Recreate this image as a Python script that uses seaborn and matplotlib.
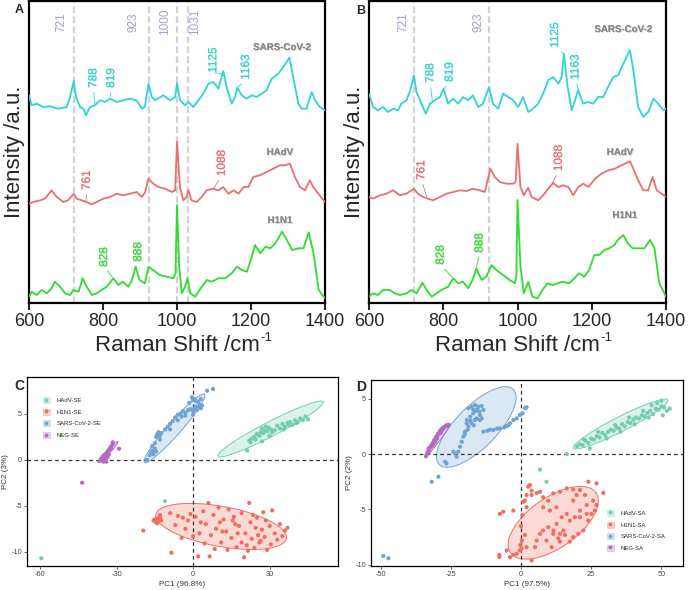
import numpy as np
import pandas as pd
import matplotlib
matplotlib.use('Agg')
import matplotlib.pyplot as plt
import matplotlib.patheffects as pe
from matplotlib.patches import Patch
from matplotlib.lines import Line2D
import seaborn as sns

# ---------------- spectra (panel A) ----------------
a_sars_x = [600, 607, 621, 639, 657, 679, 702, 711, 721, 727, 738, 747, 754, 765, 778, 792, 805, 819, 837, 855,
            873, 891, 905, 913, 923, 932, 941, 963, 981, 995, 1000, 1008, 1022, 1031, 1044, 1058, 1071, 1085, 1098, 1112,
            1125, 1134, 1148, 1157, 1163, 1175, 1188, 1202, 1215, 1229, 1242, 1256, 1274, 1287, 1304, 1314, 1328, 1337, 1350, 1364,
            1373, 1386, 1400]
a_sars_y = [21.7, 11.7, 13.3, 10, 10.7, 8.3, 10, 20, 36, 20, 10, 8.3, 1.7, 10, 11.7, 16.7, 15, 18.3, 15, 16.7,
            18.3, 16.7, 8.3, 10, 33.3, 20, 16.7, 21.7, 16.7, 20, 34, 16.7, 11.7, 15, 10, 16.7, 23.3, 33.3, 35, 28.3,
            46, 30, 13.3, 20, 29.3, 21.7, 18.3, 21.7, 20, 23.3, 26.7, 38.3, 43.3, 50, 59.3, 40, 13.3, 8.3, 8.3, 25,
            16.7, 10, 6.7]
a_hadv_x = [600, 612, 630, 643, 661, 675, 693, 706, 721, 729, 742, 756, 769, 783, 801, 819, 837, 855, 873, 891,
            905, 914, 923, 936, 950, 968, 986, 995, 1000, 1008, 1017, 1026, 1031, 1039, 1053, 1067, 1080, 1098, 1112, 1125,
            1139, 1153, 1166, 1180, 1193, 1206, 1224, 1242, 1260, 1278, 1292, 1305, 1319, 1332, 1346, 1359, 1368, 1382, 1400]
a_hadv_y = [3.3, 5, 6.7, 8.3, 16.7, 10, 5, 6.7, 13.3, 8.3, 6.7, 5, 2.7, 5, 8.3, 10, 13.3, 11.7, 13.3, 15,
            10, 15, 28.3, 23.3, 20, 18.3, 15, 16.7, 65, 20, 6.7, 10, 16.7, 6.7, 5, 10, 16.7, 18.3, 16.7, 20,
            13.3, 16.7, 13.3, 20, 20, 30, 31.7, 35, 38.3, 41.7, 41.7, 43.3, 30, 20, 16.7, 26.7, 20, 13.3, 5]
a_h1n1_x = [600, 607, 621, 634, 648, 661, 670, 684, 697, 711, 720, 734, 745, 756, 770, 783, 796, 810, 828, 841,
            854, 868, 877, 888, 899, 913, 923, 935, 953, 972, 990, 996, 1000, 1006, 1013, 1022, 1028, 1036, 1049, 1067,
            1081, 1094, 1112, 1130, 1148, 1162, 1175, 1189, 1202, 1211, 1225, 1239, 1252, 1266, 1284, 1297, 1311, 1329, 1342, 1356,
            1369, 1383, 1400]
a_h1n1_y = [3.3, 8.3, 5, 10, 6.7, 11.7, 18.3, 13.3, 6.7, 5, 10, 8.3, 21.7, 13.3, 5, 6.7, 10, 13.3, 21.7, 15,
            18.3, 13.3, 18.3, 33.3, 20, 16.7, 33.3, 30, 25, 23.3, 21.7, 26.7, 95, 33.3, 6.7, 13.3, 21.7, 6.7, 3.3, 13.3,
            20, 18.3, 21.7, 21.7, 26.7, 33.3, 30, 28.3, 43.3, 55, 46.7, 53.3, 51.7, 56.7, 68.3, 60, 50, 51.7, 51.7, 67.7,
            46.7, 10, 1.7]

# ---------------- spectra (panel B) ----------------
b_sars_x = [600, 611, 624, 638, 651, 665, 678, 687, 701, 711, 721, 728, 741, 753, 764, 777, 791, 801, 813, 827,
            840, 853, 867, 880, 894, 907, 923, 934, 948, 961, 975, 988, 1002, 1015, 1029, 1042, 1056, 1069, 1083, 1096,
            1110, 1119, 1125, 1135, 1146, 1155, 1163, 1177, 1190, 1204, 1217, 1231, 1244, 1258, 1271, 1285, 1303, 1312, 1325, 1339,
            1352, 1366, 1379, 1393, 1400]
b_sars_y = [23.3, 10, 6.7, 10, 5, 8.3, 6.7, 13.3, 16.7, 26.7, 41.7, 25, 13.3, 3.3, 13.3, 16.7, 20, 28.3, 13.3, 18.3,
            13.3, 20, 16.7, 21.7, 10, 13.3, 30, 13.3, 8.3, 23.3, 20, 16.7, 10, 20, 5, 8.3, 13.3, 23.3, 36.7, 40,
            33.3, 40, 63.3, 30, 6.7, 16.7, 26.7, 13.3, 15, 13.3, 20, 20, 30, 40, 41.7, 53.3, 66.7, 46.7, 10, 0,
            5, 18.3, 13.3, 6.7, 8.3]
b_hadv_x = [600, 611, 629, 647, 665, 683, 701, 721, 732, 746, 759, 773, 791, 809, 827, 845, 863, 880, 898, 912,
            927, 939, 952, 970, 988, 995, 1000, 1008, 1017, 1029, 1038, 1056, 1069, 1083, 1096, 1110, 1123, 1137, 1150, 1164,
            1177, 1191, 1209, 1226, 1245, 1262, 1280, 1303, 1312, 1325, 1339, 1352, 1364, 1375, 1388, 1400]
b_hadv_y = [10, 8.3, 11.7, 13.3, 16.7, 11.7, 13.3, 18.3, 13.3, 10, 8.3, 6.7, 10, 13.3, 15, 16.7, 16, 18.3, 16.7, 15,
            38.3, 30, 25, 23.3, 23.3, 25, 63.3, 20, 11.7, 19.3, 10, 6.7, 11.7, 18.3, 24, 20, 21.7, 20, 11.7, 20,
            23.3, 20, 28.3, 33.3, 36.7, 38.3, 41.7, 45.7, 38.3, 26.7, 16.7, 16.7, 30, 16.7, 13.3, 10]
b_h1n1_x = [600, 611, 624, 638, 656, 670, 683, 701, 714, 728, 744, 755, 769, 782, 795, 813, 827, 840, 853, 867,
            879, 889, 903, 916, 930, 943, 961, 979, 993, 997, 1000, 1008, 1017, 1029, 1040, 1054, 1067, 1081, 1094, 1108,
            1121, 1139, 1153, 1166, 1180, 1193, 1207, 1220, 1234, 1247, 1261, 1270, 1285, 1297, 1310, 1324, 1342, 1357, 1369, 1382,
            1400]
b_h1n1_y = [3.3, 6.7, 5, 10, 10, 6.7, 5, 6.7, 10, 6.7, 17.3, 10, 3.3, 6.7, 10, 13.3, 21.7, 16.7, 18.3, 11.7,
            20, 31.7, 20, 23.3, 35, 30, 25, 20, 16.7, 23.3, 100, 33.3, 6.7, 18.3, 3.3, 1.7, 10, 16.7, 15, 16.7,
            18.3, 16.7, 21.7, 26.7, 23.3, 30, 45, 45, 50, 51.7, 55, 60, 65, 56.7, 51.7, 51.7, 51.7, 60, 51.7, 16.7,
            3.3]

spec_names = ['SARS-CoV-2', 'HAdV', 'H1N1']
spec_colors = ['#2fd4d4', '#ea6f6f', '#2fdc2f']
spec_offsets = [186, 96, 3]

# peak labels: (text, series index, peak position)
a_peaks = [('788', 0, 778), ('819', 0, 819), ('1125', 0, 1123), ('1163', 0, 1163),
           ('761', 1, 754), ('1088', 1, 1098), ('828', 2, 828), ('888', 2, 889)]
b_peaks = [('788', 0, 771), ('819', 0, 801), ('1125', 0, 1125), ('1163', 0, 1170),
           ('761', 1, 757), ('1088', 1, 1090), ('828', 2, 827), ('888', 2, 889)]
a_vlines = [721, 923, 1000, 1031]
b_vlines = [721, 923]

# ---------------- PCA (panel C) ----------------
groups_c = ['HAdV-SE', 'H1N1-SE', 'SARS-CoV-2-SE', 'NEG-SE']
groups_d = ['HAdV-SA', 'H1N1-SA', 'SARS-CoV-2-SA', 'NEG-SA']
pca_colors = ['#72cdb3', '#f26d5e', '#6fa3d4', '#b56ac6']

c_hadv_x = [21.2, 22, 23, 24, 24.5, 25, 26, 26.5, 27, 27.5, 28, 28.5, 29, 29.5, 30, 30.5, 31, 32, 33, 34,
            35, 36, 37, 38, 39, 40, 41, 42, 43, 44, 45, 35.5, 37.5, 40.5, 22.5, 27, -11, -59.5]
c_hadv_y = [1.0, 2.1, 2.3, 2.5, 2.2, 2.8, 2.6, 3.0, 3.4, 2.9, 3.2, 3.6, 3.1, 3.5, 2.6, 3.3, 3.0, 3.2, 3.7, 3.4,
            3.9, 3.6, 4.0, 4.1, 3.8, 4.3, 4.1, 4.5, 4.3, 4.7, 4.4, 3.3, 3.8, 4.0, 1.9, 2.0, -4.5, -10.7]
c_h1n1_x = [-15, -14.5, -14, -13.5, -13, -14, -15.5, -13, -12.5, -19.5, -8.5, -6, -4, -2, -3, 1, 2, 3, 4, 5,
            6, 7, 8, 9, 10, 11, 12, 13, 14, 15, 16, 17, 18, 19, 20, 20.5, 21, 22, 22.5, 23,
            24, 24.5, 25, 25.5, 26, 27, 27.5, 28, 29, 30, 31, 32, 33, 34, 35, 36, 37, -9, -7, -1,
            0, 4.5, 6.5, 10.5, 13.5, 16.5, 19, 21.5, 23.5, 26.5, 28.5, 15.5, 17.5, 11.5, 8.5, 2.5, -4.5, 30.5]
c_h1n1_y = [-6.5, -6.8, -6.4, -6.7, -6.3, -6.9, -6.6, -6.0, -6.6, -7.7, -10.1, -6.1, -6.3, -6.6, -7.5, -6.2, -10.5, -6.8, -5.6, -7.0,
            -4.7, -8.2, -6.0, -7.5, -5.2, -9.0, -6.5, -7.8, -5.4, -8.5, -6.2, -9.5, -7.2, -5.8, -10.6, -8.0, -9.3, -4.7, -6.8, -8.6,
            -9.6, -7.4, -6.3, -8.2, -9.0, -7.6, -5.7, -8.4, -9.8, -7.2, -5.5, -8.0, -8.7, -7.0, -8.3, -7.7, -7.4, -5.8, -7.1, -5.9,
            -8.3, -9.1, -10.5, -6.8, -9.8, -7.0, -9.0, -9.9, -6.0, -8.8, -6.6, -6.6, -8.0, -7.8, -9.7, -8.0, -8.5, -9.2]
c_sars_x = [-17, -16.5, -16, -15.5, -15, -14.5, -16, -15, -14, -13.5, -13, -12.5, -14.5, -13, -11, -10, -9, -8, -7, -6,
            -5, -4.5, -4, -3, -2, -1, 0, 0.5, 1, 1.5, 2, 2.5, 3, 3.5, 2, 1, 0, -0.5, 0.5, -1.5,
            3, 5.5, 7.8, -9, -6, -3, 0, -18]
c_sars_y = [0.5, 0.8, 1.0, 0.6, 1.2, 0.9, 1.5, 1.8, 2.8, 3.0, 2.6, 2.9, 2.5, 2.2, 3.3, 3.6, 3.9, 4.2, 4.6, 4.9,
            5.0, 4.7, 5.3, 5.1, 5.4, 5.5, 5.3, 5.6, 5.8, 5.4, 5.7, 6.0, 5.6, 5.9, 6.3, 6.4, 6.5, 6.8, 6.6, 6.2,
            6.6, 7.5, 7.7, 3.3, 4.3, 4.8, 4.9, 0.0]
c_neg_x = [-36.5, -36, -35.5, -35, -35, -34.5, -34, -34, -33.5, -33, -33, -32.5, -32, -31.5, -31.5, -32, -35.5, -34.5, -33.5, -34,
           -35, -29, -43.5]
c_neg_y = [-0.1, 0.1, 0.3, 0.2, 0.5, 0.4, 0.7, 0.2, 0.9, 0.6, 1.1, 1.3, 1.5, 1.7, 1.9, 1.2, -0.1, 0.0, 0.3, -0.2,
           -0.2, 1.2, -2.5]

# confidence ellipses: centre and two conjugate semi-axes (HAdV, H1N1, SARS, NEG)
c_ell_cx = [30.4, 11.0, -7.3, -33.4]
c_ell_cy = [3.35, -7.25, 3.42, 0.83]
c_ell_ax = [20.6, 25.6, 11.8, 3.9]
c_ell_ay = [2.95, -1.30, 3.71, 1.12]
c_ell_bx = [1.3, -1.40, 1.95, 0.47]
c_ell_by = [-0.71, -2.14, -0.48, -0.13]

# ---------------- PCA (panel D) ----------------
d_hadv_x = [16.3, 20, 21, 22, 23, 24, 24.5, 25, 26, 27, 28, 29, 30, 31, 32, 33, 34, 35, 36, 37,
            38, 39, 40, 41, 42, 43, 44, 45, 46, 47, 48, 49, 50, 51, 52, 53, 50.5, 45.5, 40.5, 35.5,
            30.5, 6.8, 9.1, 22.5, 27.5, 33.5, 38.5, 43.5, 48.5, 50, 46.5]
d_hadv_y = [0.0, 0.7, 0.9, 0.8, 1.2, 1.0, 0.5, 1.4, 1.3, 1.6, 1.5, 1.9, 1.7, 2.0, 2.2, 2.1, 2.4, 2.3, 2.7, 2.5,
            2.9, 2.8, 3.1, 3.3, 3.2, 3.5, 3.4, 3.7, 3.9, 3.6, 4.1, 4.0, 4.3, 4.2, 3.9, 4.1, 3.5, 3.3, 2.7, 2.0,
            1.4, -1.4, -2.5, 1.3, 2.0, 2.6, 3.3, 3.9, 4.6, 4.8, 4.4]
d_h1n1_x = [2.6, 3.2, 3.8, 2.0, 1.4, 0.8, 2.0, 3.8, 5.6, 6.8, 7.9, 9.7, 11.5, 13.9, 16.3, 18.6, 19.8, 21.0, 22.8, 24.0,
            26.9, 29.3, 25.7, 23.4, 21.0, 19.2, 17.4, 16.3, 14.5, 12.7, 11.5, 13.9, 15.1, 15.7, 13.3, 11.5, 9.7, 7.9, 6.8, 5.6,
            9.1, 10.9, 13.9, 17.4, 18.6, 20.4, 22.2, 24.0, 25.1, 26.3, 26.9, 5.0, 2.0, 0.2, -0.4, -1.5, -2.7, -3.9, -5.1, -7.7,
            -7.7, -6.3, -7.5, -2.7, 1.4, 3.8, 18.6, 21.0, 23.4, 7.9, 10.3, 12.7, 0, 0.3, -0.2, 0.5]
d_h1n1_y = [-2.95, -2.8, -3.3, -3.7, -4.2, -4.3, -4.8, -3.7, -3.5, -3.4, -3.9, -4.2, -3.55, -3.4, -3.1, -3.2, -3.7, -3.25, -3.7, -2.5,
            -2.65, -3.5, -4.2, -4.6, -5.1, -5.7, -6.0, -5.4, -5.7, -6.3, -6.9, -7.2, -6.9, -7.3, -7.6, -7.2, -6.6, -6.9, -7.2, -7.8,
            -7.8, -8.4, -7.9, -7.9, -7.5, -7.2, -6.9, -6.0, -5.4, -5.1, -4.6, -8.4, -8.4, -8.5, -8.7, -9.0, -9.1, -9.3, -8.7, -9.1,
            -9.3, -5.2, -5.4, -5.1, -7.3, -9.6, -4.2, -5.7, -5.4, -4.8, -5.1, -4.8, -6.5, -7.8, -8.2, -5.5]
d_sars_x = [-18.7, -17.5, -16.4, -15.2, -14.0, -13.4, -14.6, -15.8, -17.0, -18.1, -19.3, -18.7, -19.9, -20.5, -21.1, -21.7, -22.3, -22.9, -23.5, -19.3,
            -17.6, -16.4, -14.6, -14.0, -13.4, -9.8, -7.5, -5.1, -3.9, -2.7, -1.5, -0.4, 0.6, 1.4, 2.0, -24.1, -27.0, -26.5, -29.4, -31.8,
            -49.0, -47.2, -16.0, -15.5, -17.0, -14.8, -18.0, -19.0, -20.0, -16.8, -12.0, -11.0, -6.0, -4.5, -8.5]
d_sars_y = [4.13, 4.28, 4.43, 4.28, 4.34, 3.98, 3.52, 3.22, 3.67, 3.37, 3.07, 2.47, 2.02, 1.57, 1.11, 0.66, 0.21, -0.24, 0.06, 2.77,
            2.77, 3.07, 3.07, 3.22, 2.02, 2.17, 2.32, 2.53, 2.77, 3.07, 3.22, 3.52, 3.67, 4.13, 4.22, 0.21, -0.69, -0.84, -2.05, -2.5,
            -9.2, -9.4, 3.9, 4.1, 4.0, 3.8, 3.0, 2.2, 1.8, 2.6, 2.1, 2.2, 2.4, 2.6, 2.3]
d_neg_x = [-33.8, -33.5, -33.2, -33.0, -32.7, -32.4, -32.0, -31.7, -31.4, -31.0, -30.7, -30.3, -30.0, -29.6, -29.2, -28.8, -28.4, -28.0, -27.6, -27.0,
           -26.5, -26.0, -25.7, -32.9, -31.2, -29.9, -28.6, -30.5]
d_neg_y = [-0.2, 0.0, 0.2, 0.1, 0.4, 0.6, 0.8, 0.7, 1.0, 1.2, 1.3, 1.5, 1.6, 1.8, 1.9, 2.1, 2.2, 2.3, 2.4, 2.5,
           2.6, 2.55, 2.65, 0.5, 0.9, 1.4, 1.9, 1.1]

d_ell_cx = [35.5, 11.5, -15.9, -29.8]
d_ell_cy = [2.71, -6.2, 2.44, 1.17]
d_ell_ax = [16.8, 15.2, 13.17, 4.45]
d_ell_ay = [2.17, 2.71, 3.39, 1.46]
d_ell_bx = [1.18, 5.13, 5.22, 0.47]
d_ell_by = [-0.59, -1.85, -1.31, -0.09]


sns.set_style('ticks')
plt.rcParams['font.family'] = ['Liberation Sans', 'DejaVu Sans']
plt.rcParams['axes.unicode_minus'] = False

fig = plt.figure(figsize=(6.88, 5.90), dpi=100)
W, H = 688, 590


def add_axes_px(left, top, right, bottom):
    return fig.add_axes([left / W, 1 - bottom / H, (right - left) / W, (bottom - top) / H])


def soft_shadow(alpha):
    return [pe.withSimplePatchShadow(offset=(0.6, -0.6), shadow_rgbFace='#b0b0b0', alpha=alpha), pe.Normal()]


def draw_spectra(ax, xs, ys, peaks, vlines, vlab_x, peak_txt, name_pos):
    for v, lx in zip(vlines, vlab_x):
        ax.axvline(v, color='#d2d2d2', lw=1.6, ls=(0, (3, 1.5)), zorder=1)
        ax.text(lx, 281, str(v), rotation=90, ha='center', va='center', fontsize=8.5, color='#a09ce8')
    for i in range(3):
        y = np.array(ys[i]) + spec_offsets[i]
        sns.lineplot(x=xs[i], y=y, color=spec_colors[i], lw=1.3, sort=False, estimator=None, ax=ax, zorder=3)
        ax.text(name_pos[i][0], name_pos[i][1], spec_names[i], fontsize=7, fontweight='bold', color='#8a8a8a',
                ha='center', va='center', path_effects=soft_shadow(0.5))
    for (lab, si, px), (tx, ty) in zip(peaks, peak_txt):
        py = np.interp(px, xs[si], ys[si]) + spec_offsets[si]
        ax.annotate(lab, xy=(px, py), xytext=(tx, ty), rotation=90, ha='center', va='center',
                    fontsize=8.5, color=spec_colors[si], path_effects=soft_shadow(0.3),
                    arrowprops=dict(arrowstyle='-', color=spec_colors[si], lw=0.6, relpos=(0.5, 0), shrinkA=1, shrinkB=1))
    ax.set_xlim(600, 1400)
    ax.set_ylim(0, 302)
    ax.set_yticks([])
    ax.set_xticks([600, 800, 1000, 1200, 1400])
    ax.tick_params(axis='x', labelsize=13, length=5, width=1.5, pad=2)
    for s in ax.spines.values():
        s.set_linewidth(1.6)
        s.set_color('black')
    xl = ax.set_xlabel('Raman Shift /cm', fontsize=16, labelpad=4)
    # superscript unit exponent, attached to the end of the label
    ax.annotate('-1', xy=(1, 0), xycoords=xl, xytext=(0.5, 9), textcoords='offset points',
                ha='left', va='bottom', fontsize=9.5)
    ax.set_ylabel('Intensity /a.u.', fontsize=16, labelpad=3)


ax_a = add_axes_px(29, 1, 325, 303)
draw_spectra(ax_a, [a_sars_x, a_hadv_x, a_h1n1_x], [a_sars_y, a_hadv_y, a_h1n1_y], a_peaks, a_vlines,
             [688, 882, 969, 1049],
             [(774, 225), (822, 225), (1098, 243), (1186, 236), (756, 123), (1121, 140), (803, 46), (895, 51)],
             [(1284, 256), (1278, 151), (1278, 83)])

ax_b = add_axes_px(369, 1, 666, 303)
draw_spectra(ax_b, [b_sars_x, b_hadv_x, b_h1n1_x], [b_sars_y, b_hadv_y, b_h1n1_y], b_peaks, b_vlines,
             [692, 894],
             [(765, 230), (817, 231), (1101, 268), (1156, 236), (741, 133), (1111, 145), (793, 48), (898, 60)],
             [(1285, 274), (1276, 151), (1289, 88)])

fig.text(19 / W, 1 - 10 / H, 'A', fontsize=9, fontweight='bold', ha='center', va='center')
fig.text(361 / W, 1 - 11 / H, 'B', fontsize=9, fontweight='bold', ha='center', va='center')


def draw_pca(ax, xs, ys, groups, ell, xlim, ylim, xticks, yticks, xlabel, ylabel, legend_loc, legend_anchor):
    df = pd.concat([pd.DataFrame({'PC1': x, 'PC2': y, 'group': g}) for x, y, g in zip(xs, ys, groups)])
    t = np.linspace(0, 2 * np.pi, 200)
    cx, cy, axx, axy, bx, by = ell
    for i, c in enumerate(pca_colors):
        ex = cx[i] + axx[i] * np.cos(t) + bx[i] * np.sin(t)
        ey = cy[i] + axy[i] * np.cos(t) + by[i] * np.sin(t)
        ax.fill(ex, ey, facecolor=c, alpha=0.25, zorder=1)
        ax.plot(ex, ey, color=c, lw=0.7, zorder=1.5)
    ax.axhline(0, color='#333333', lw=0.9, ls=(0, (3, 2.5)), zorder=2)
    ax.axvline(0, color='#333333', lw=0.9, ls=(0, (3, 2.5)), zorder=2)
    sns.scatterplot(data=df, x='PC1', y='PC2', hue='group', hue_order=groups, palette=pca_colors,
                    s=9, edgecolor='none', legend=False, ax=ax, zorder=3)
    ax.set_xlim(*xlim)
    ax.set_ylim(*ylim)
    ax.set_xticks(xticks)
    ax.set_yticks(yticks)
    ax.tick_params(labelsize=5.3, length=2, width=0.6, pad=1.5, colors='#444444')
    for s in ax.spines.values():
        s.set_linewidth(0.9)
        s.set_color('black')
    ax.set_xlabel(xlabel, fontsize=5.8, labelpad=2, color='#333333')
    ax.set_ylabel(ylabel, fontsize=5.8, labelpad=2, color='#333333')
    handles = [(Patch(facecolor=c, edgecolor=c, alpha=0.3, lw=0.6),
                Line2D([], [], ls='', marker='o', ms=1.8, color=c)) for c in pca_colors]
    ax.legend(handles, groups, loc=legend_loc, bbox_to_anchor=legend_anchor, frameon=False, fontsize=4.3,
              handlelength=1.2, handleheight=1.15, labelspacing=0.95, handletextpad=1.1,
              borderaxespad=0, borderpad=0)


ax_c = add_axes_px(27, 377, 338, 566)
draw_pca(ax_c, [c_hadv_x, c_h1n1_x, c_sars_x, c_neg_x], [c_hadv_y, c_h1n1_y, c_sars_y, c_neg_y], groups_c,
         (c_ell_cx, c_ell_cy, c_ell_ax, c_ell_ay, c_ell_bx, c_ell_by),
         (-65.1, 56.8), (-11.55, 9.0), [-60, -30, 0, 30], [-10, -5, 0, 5],
         'PC1 (96.8%)', 'PC2 (3%)', 'upper left', (0.051, 0.894))

ax_d = add_axes_px(371, 380, 683, 566)
draw_pca(ax_d, [d_hadv_x, d_h1n1_x, d_sars_x, d_neg_x], [d_hadv_y, d_h1n1_y, d_sars_y, d_neg_y], groups_d,
         (d_ell_cx, d_ell_cy, d_ell_ax, d_ell_ay, d_ell_bx, d_ell_by),
         (-53.4, 57.7), (-10.1, 6.68), [-50, -25, 0, 25, 50], [-10, -5, 0, 5],
         'PC1 (97.5%)', 'PC2 (2%)', 'lower left', (0.756, 0.081))

fig.text(19 / W, 1 - 386 / H, 'C', fontsize=10, fontweight='bold', ha='center', va='center')
fig.text(361 / W, 1 - 387 / H, 'D', fontsize=10, fontweight='bold', ha='center', va='center')

fig.savefig('out.png', dpi=100)
